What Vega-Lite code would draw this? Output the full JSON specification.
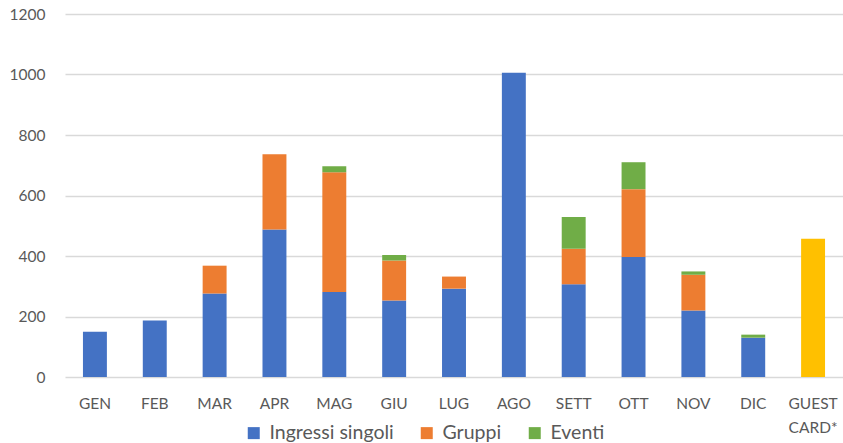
{
  "$schema": "https://vega.github.io/schema/vega-lite/v6.json",
  "width": 778,
  "height": 363,
  "autosize": "none",
  "padding": {"left": 65, "top": 14, "right": 0, "bottom": 66},
  "background": "white",
  "data": {"values": [
    {"mese": "GEN", "serie": "Ingressi singoli", "ord": 1, "valore": 150},
    {"mese": "FEB", "serie": "Ingressi singoli", "ord": 1, "valore": 187},
    {"mese": "MAR", "serie": "Ingressi singoli", "ord": 1, "valore": 276},
    {"mese": "MAR", "serie": "Gruppi", "ord": 2, "valore": 92},
    {"mese": "APR", "serie": "Ingressi singoli", "ord": 1, "valore": 488},
    {"mese": "APR", "serie": "Gruppi", "ord": 2, "valore": 248},
    {"mese": "MAG", "serie": "Ingressi singoli", "ord": 1, "valore": 281},
    {"mese": "MAG", "serie": "Gruppi", "ord": 2, "valore": 396},
    {"mese": "MAG", "serie": "Eventi", "ord": 3, "valore": 20},
    {"mese": "GIU", "serie": "Ingressi singoli", "ord": 1, "valore": 253},
    {"mese": "GIU", "serie": "Gruppi", "ord": 2, "valore": 132},
    {"mese": "GIU", "serie": "Eventi", "ord": 3, "valore": 18},
    {"mese": "LUG", "serie": "Ingressi singoli", "ord": 1, "valore": 292},
    {"mese": "LUG", "serie": "Gruppi", "ord": 2, "valore": 40},
    {"mese": "AGO", "serie": "Ingressi singoli", "ord": 1, "valore": 1006},
    {"mese": "SETT", "serie": "Ingressi singoli", "ord": 1, "valore": 307},
    {"mese": "SETT", "serie": "Gruppi", "ord": 2, "valore": 117},
    {"mese": "SETT", "serie": "Eventi", "ord": 3, "valore": 105},
    {"mese": "OTT", "serie": "Ingressi singoli", "ord": 1, "valore": 397},
    {"mese": "OTT", "serie": "Gruppi", "ord": 2, "valore": 224},
    {"mese": "OTT", "serie": "Eventi", "ord": 3, "valore": 89},
    {"mese": "NOV", "serie": "Ingressi singoli", "ord": 1, "valore": 220},
    {"mese": "NOV", "serie": "Gruppi", "ord": 2, "valore": 118},
    {"mese": "NOV", "serie": "Eventi", "ord": 3, "valore": 11},
    {"mese": "DIC", "serie": "Ingressi singoli", "ord": 1, "valore": 130},
    {"mese": "DIC", "serie": "Eventi", "ord": 3, "valore": 10},
    {"mese": "GUEST CARD*", "serie": "Guest card", "ord": 4, "valore": 457}
  ]},
  "mark": {"type": "bar"},
  "encoding": {
    "x": {
      "field": "mese", "type": "nominal", "sort": null,
      "scale": {"paddingInner": 0.6, "paddingOuter": 0.3},
      "axis": {
        "title": null, "labelAngle": 0, "domain": false, "ticks": false,
        "labelPadding": 19, "labelFont": "Lato", "labelFontSize": 15.5,
        "labelColor": "#595959", "labelLineHeight": 24,
        "labelExpr": "datum.label == 'GUEST CARD*' ? ['GUEST', 'CARD*'] : datum.label"
      }
    },
    "y": {
      "field": "valore", "type": "quantitative", "aggregate": "sum",
      "scale": {"domain": [0, 1200]},
      "axis": {
        "title": null, "values": [0, 200, 400, 600, 800, 1000, 1200], "format": "d",
        "domain": false, "ticks": false, "labelPadding": 20,
        "labelFont": "Lato", "labelFontSize": 15.5, "labelColor": "#595959",
        "gridColor": "#d9d9d9", "gridWidth": 1.5
      }
    },
    "color": {
      "field": "serie", "type": "nominal",
      "scale": {
        "domain": ["Ingressi singoli", "Gruppi", "Eventi", "Guest card"],
        "range": ["#4472C4", "#ED7D31", "#70AD47", "#FFC000"]
      },
      "legend": {
        "title": null, "values": ["Ingressi singoli", "Gruppi", "Eventi"],
        "orient": "none", "direction": "horizontal",
        "legendX": 179, "legendY": 409,
        "symbolType": "square", "symbolSize": 144, "symbolStrokeWidth": 0,
        "labelFont": "Lato", "labelFontSize": 19.5, "labelColor": "#595959",
        "columnPadding": 23, "labelOffset": 6
      }
    },
    "order": {"field": "ord", "type": "quantitative"}
  },
  "config": {"view": {"stroke": null}}
}
